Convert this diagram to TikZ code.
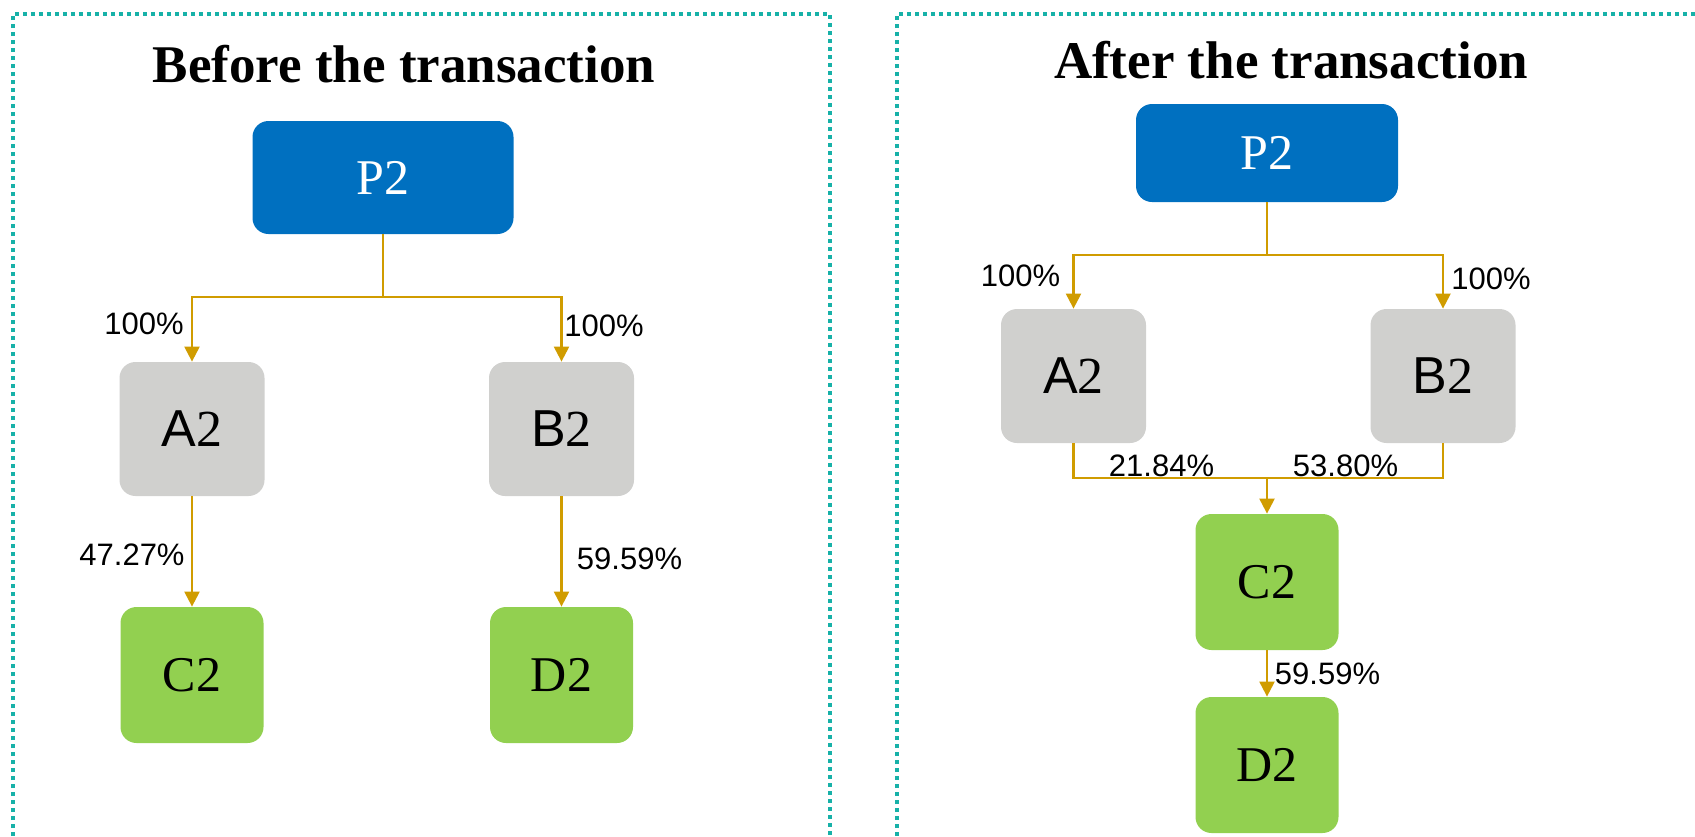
\documentclass[tikz,border=0pt]{standalone}
\usepackage{fontspec}
\setmainfont{Liberation Serif}
\newfontfamily\arialf{Liberation Sans}
\usetikzlibrary{arrows.meta}
\definecolor{pblue}{HTML}{0070C0}
\definecolor{bgray}{HTML}{D0D0CE}
\definecolor{bgreen}{HTML}{92D050}
\definecolor{conncol}{RGB}{208,156,0}
\definecolor{tealc}{HTML}{17B1A8}
\tikzset{
  boxbase/.style={rounded corners=8pt, inner sep=0pt},
  pbox/.style={boxbase, fill=pblue, text=white, font=\fontsize{25}{28}\selectfont},
  gbox/.style={boxbase, fill=bgray, text=black, minimum width=72.5pt, minimum height=67pt, font=\fontsize{26}{30}\selectfont},
  cbox/.style={boxbase, fill=bgreen, text=black, minimum width=71.5pt, minimum height=68pt, font=\fontsize{25}{28}\selectfont},
  pct/.style={inner sep=0pt, font=\arialf\fontsize{15.5}{18}\selectfont},
  ttl/.style={inner sep=0pt, anchor=base, font=\bfseries\fontsize{26.5}{30}\selectfont},
  conn/.style={draw=conncol, line width=1.1pt},
  arr/.style={conn, -{Triangle[length=7.5pt,width=7.5pt]}},
  panel/.style={draw=tealc, line width=2pt, dash pattern=on 2pt off 2pt}
}
\begin{document}
\begin{tikzpicture}[x=0.5pt,y=-0.5pt]
\useasboundingbox (0,0) rectangle (1695,836);
% panels
\draw[panel] (13,836) -- (13,14) -- (830,14) -- (830,836);
\draw[panel] (897,836) -- (897,14) -- (1695,14);
% titles
\node[ttl] (tL) at (404,82) {Before the transaction};
\node[ttl] (tR) at (1291,78) {After the transaction};
% left nodes
\node[pbox, minimum width=130.5pt, minimum height=56.5pt] (P2L) at (383,177.5) {P2};
\node[gbox] (A2L) at (192,429) {{\arialf A}\rmfamily 2};
\node[gbox] (B2L) at (561.5,429) {{\arialf B}\rmfamily 2};
\node[cbox] (C2L) at (192,675) {C2};
\node[cbox] (D2L) at (561.5,675) {D2};
\coordinate (jL) at (383,297);
\draw[conn] (P2L.south) -- (jL);
\draw[arr] (jL) -| (A2L.north);
\draw[arr] (jL) -| (B2L.north);
\draw[arr] (A2L.south) -- (C2L.north);
\draw[arr] (B2L.south) -- (D2L.north);
\node[pct] (l1) at (144,323.5) {100\%};
\node[pct] (l2) at (604,326) {100\%};
\node[pct] (l3) at (132,554.5) {47.27\%};
\node[pct] (l4) at (629.5,558.5) {59.59\%};
% right nodes
\node[pbox, minimum width=131pt, minimum height=49pt] (P2R) at (1267,153) {P2};
\node[gbox] (A2R) at (1073.5,376) {{\arialf A}\rmfamily 2};
\node[gbox] (B2R) at (1443,376) {{\arialf B}\rmfamily 2};
\node[cbox] (C2R) at (1267,582) {C2};
\node[cbox] (D2R) at (1267,765) {D2};
\coordinate (jR) at (1267,255);
\coordinate (mR) at (1267,478);
\draw[conn] (P2R.south) -- (jR);
\draw[arr] (jR) -| (A2R.north);
\draw[arr] (jR) -| (B2R.north);
\draw[conn] (A2R.south) |- (mR);
\draw[conn] (B2R.south) |- (mR);
\draw[arr] (mR) -- (C2R.north);
\draw[arr] (C2R.south) -- (D2R.north);
\node[pct] (r1) at (1020.5,276) {100\%};
\node[pct] (r2) at (1491,278.5) {100\%};
\node[pct] (r3) at (1161.5,465.5) {21.84\%};
\node[pct] (r4) at (1345.5,465.5) {53.80\%};
\node[pct] (r5) at (1327.5,673.5) {59.59\%};
\end{tikzpicture}
\end{document}
